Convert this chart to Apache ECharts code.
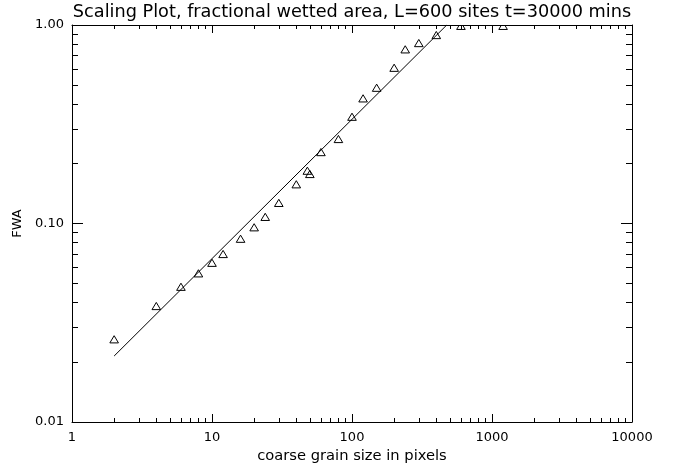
<!DOCTYPE html>
<html>
<head>
<meta charset="utf-8">
<script src="https://cdn.jsdelivr.net/npm/echarts@6/dist/echarts.min.js"></script>
<style>
  html, body { margin: 0; padding: 0; background: #fff; }
  #chart { width: 678px; height: 468px; }
</style>
</head>
<body>
<div id="chart"></div>
<script>
// Coarse grain size (pixels) and the fractional wetted area measured at each size
const grainSize = [2, 4, 6, 8, 10, 12, 16, 20, 24, 30, 40, 48, 50, 60, 80, 100, 120, 150, 200, 240, 300, 400, 600, 1200];
const fwa = [0.0261, 0.0384, 0.0480, 0.0561, 0.0634, 0.0702, 0.0838, 0.0957, 0.108, 0.127, 0.1576, 0.1845, 0.1776,
             0.229, 0.2665, 0.345, 0.427, 0.483, 0.609, 0.754, 0.811, 0.890, 0.99, 0.99];

// Power-law fit, given by its two end points
const fitX = [2, 475];
const fitY = [0.0215, 1.0];

// Tick labels and minor tick positions
const xTickLabels = ['1', '10', '100', '1000', '10000'];
const yTickLabels = ['0.01', '0.10', '1.00'];
const xMinorTicks = [2, 3, 4, 5, 6, 7, 8, 9, 20, 30, 40, 50, 60, 70, 80, 90,
                     200, 300, 400, 500, 600, 700, 800, 900, 2000, 3000, 4000, 5000, 6000, 7000, 8000, 9000];
const yMinorTicks = [0.02, 0.03, 0.04, 0.05, 0.06, 0.07, 0.08, 0.09, 0.2, 0.3, 0.4, 0.5, 0.6, 0.7, 0.8, 0.9];

const titleText = 'Scaling Plot, fractional wetted area, L=600 sites t=30000 mins';
const xName = 'coarse grain size in pixels';
const yName = 'FWA';

const FONT = 'DejaVu Sans';
const INK = '#000';

function xAxisDef(pos, minor) {
  return {
    type: 'log', logBase: 10, min: 1, max: 10000, position: pos, gridIndex: 0,
    name: (pos === 'bottom' && !minor) ? xName : '',
    nameLocation: 'middle', nameGap: 24,
    nameTextStyle: { color: INK, fontFamily: FONT, fontSize: 14.7 },
    axisLine: { show: !minor, onZero: false, lineStyle: { color: INK, width: 1 } },
    axisTick: minor
      ? { show: true, inside: true, length: 4, customValues: xMinorTicks, lineStyle: { color: INK, width: 1 } }
      : { show: true, inside: true, length: 8, lineStyle: { color: INK, width: 1 } },
    axisLabel: {
      show: pos === 'bottom' && !minor, margin: 9, color: INK, fontFamily: FONT, fontSize: 13,
      formatter: v => xTickLabels[Math.round(Math.log10(v))]
    },
    splitLine: { show: false },
    minorTick: { show: false }
  };
}

function yAxisDef(pos, minor) {
  return {
    type: 'log', logBase: 10, min: 0.01, max: 1, position: pos, gridIndex: 0,
    name: (pos === 'left' && !minor) ? yName : '',
    nameLocation: 'middle', nameGap: 45, nameRotate: 90,
    nameTextStyle: { color: INK, fontFamily: FONT, fontSize: 13 },
    axisLine: { show: !minor, onZero: false, lineStyle: { color: INK, width: 1 } },
    axisTick: minor
      ? { show: true, inside: true, length: 6, customValues: yMinorTicks, lineStyle: { color: INK, width: 1 } }
      : { show: true, inside: true, length: 11, lineStyle: { color: INK, width: 1 } },
    axisLabel: {
      show: pos === 'left' && !minor, margin: 8, color: INK, fontFamily: FONT, fontSize: 13,
      formatter: v => yTickLabels[Math.round(Math.log10(v)) + 2]
    },
    splitLine: { show: false },
    minorTick: { show: false }
  };
}

const chart = echarts.init(document.getElementById('chart'), null, { renderer: 'canvas' });

chart.setOption({
  backgroundColor: '#fff',
  animation: false,
  graphic: [{
    type: 'text', x: 352, y: 3,
    style: { text: titleText, fill: INK, font: '17.7px "DejaVu Sans"', align: 'center' }
  }],
  grid: { left: 72, top: 25, right: 46, bottom: 46, containLabel: false, outerBoundsMode: 'none' },
  xAxis: [xAxisDef('bottom', false), xAxisDef('bottom', true), xAxisDef('top', false), xAxisDef('top', true)],
  yAxis: [yAxisDef('left', false), yAxisDef('left', true), yAxisDef('right', false), yAxisDef('right', true)],
  series: [
    {
      type: 'line',
      xAxisIndex: 0, yAxisIndex: 0,
      data: fitX.map((x, i) => [x, fitY[i]]),
      showSymbol: false, symbol: 'none', clip: true,
      lineStyle: { color: INK, width: 1 }
    },
    {
      type: 'custom',
      xAxisIndex: 0, yAxisIndex: 0,
      clip: true,
      data: grainSize.map((x, i) => [x, fwa[i]]),
      encode: { x: 0, y: 1 },
      renderItem: function (params, api) {
        const p = api.coord([api.value(0), api.value(1)]);
        return {
          type: 'polygon',
          shape: { points: [[p[0] - 4.3, p[1] + 3.6], [p[0], p[1] - 3.6], [p[0] + 4.3, p[1] + 3.6]] },
          style: { fill: 'none', stroke: INK, lineWidth: 1 }
        };
      }
    }
  ]
});
</script>
</body>
</html>
